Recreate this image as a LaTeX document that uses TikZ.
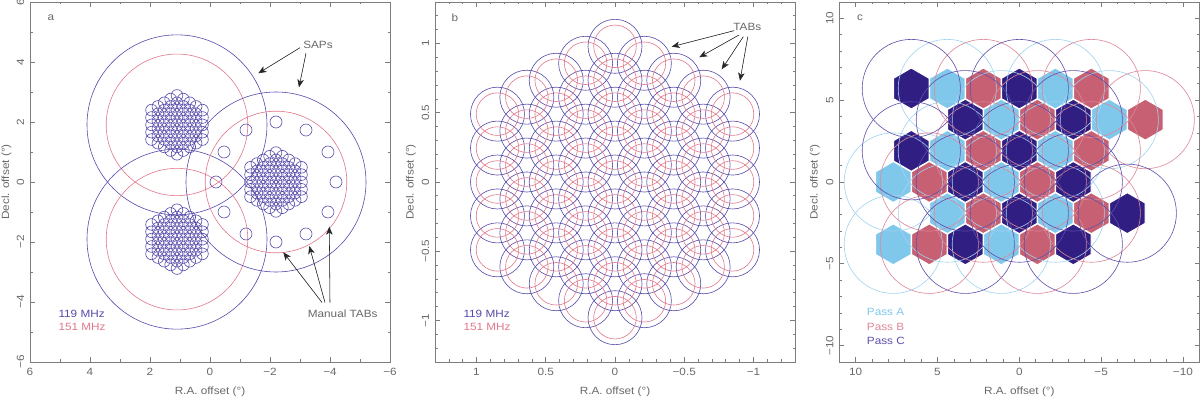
\documentclass[tikz,border=0pt]{standalone}
\usepackage{fontspec}
\setmainfont{Liberation Sans}[FakeStretch=1.12]
\usetikzlibrary{arrows.meta}
\definecolor{txt}{RGB}{105,105,105}
\definecolor{frm}{RGB}{125,125,125}
\definecolor{bl}{RGB}{85,75,170}
\definecolor{rd}{RGB}{225,120,140}
\definecolor{pa}{RGB}{128,200,235}
\definecolor{pb}{RGB}{200,96,115}
\definecolor{pc}{RGB}{48,30,130}
\definecolor{pal}{RGB}{160,212,240}
\definecolor{pbl}{RGB}{222,135,152}
\definecolor{pcl}{RGB}{95,80,170}
\newcommand\axesbox[4]{%
  \foreach \k in {-#3,...,#3}{%
    \pgfmathsetmacro\tlen{mod(abs(\k),#4)==0 ? 4.7 : 2.5}%
    \draw[tk] ({#1+\k*#2},37) -- ++(0,\tlen);
    \draw[tk] ({#1+\k*#2},397) -- ++(0,-\tlen);
    \draw[tk] ({#1-180},{217+\k*#2}) -- ++(\tlen,0);
    \draw[tk] ({#1+180},{217+\k*#2}) -- ++(-\tlen,0);
  }%
  \draw[frame] ({#1-180},37) rectangle ({#1+180},397);
}
\newcommand\tabgrid[4]{%
  \foreach \k in {-4,...,4}{%
    \pgfmathtruncatemacro\nn{8-abs(\k)}%
    \foreach \j in {0,...,\nn}{%
      \draw[#4,cl] ({#1+\k*0.2122},{#2+(\j-\nn/2)*0.245}) circle[radius=#3];
    }%
  }%
}
\newcommand\hexc[3]{%
  \filldraw[fill=#3, draw=white, line width=1pt]
    (#1,{#2+1.25}) -- ({#1+1.0825},{#2+0.625}) -- ({#1+1.0825},{#2-0.625}) --
    (#1,{#2-1.25}) -- ({#1-1.0825},{#2-0.625}) -- ({#1-1.0825},{#2+0.625}) -- cycle;
}
\begin{document}
\begin{tikzpicture}[x=1pt,y=1pt,
  lab/.style={font=\fontsize{10.5}{12}\selectfont, text=txt, inner sep=0pt},
  leg/.style={font=\fontsize{10.5}{12}\selectfont, inner sep=0pt, anchor=west},
  arr/.style={-{Stealth[length=8pt,width=6.5pt,inset=2.2pt]}, line width=0.55pt, draw=black!85, fill=black},
  frame/.style={draw=frm, line width=0.9pt},
  tk/.style={draw=frm, line width=0.7pt},
  cl/.style={line width=0.6pt}]
\fill[white] (0,0) rectangle (1200,399);
\useasboundingbox (0,0) rectangle (1200,399);

% ---------------- panel a ----------------
\begin{scope}[shift={(210pt,217pt)}, x=-30pt, y=30pt]
  \clip (-6,-6) rectangle (6,6);
  \foreach \cx/\cy in {1.1/1.905, 1.1/-1.905, -2.2/0}{
    \draw[bl,cl] (\cx,\cy) circle[radius=3];
    \draw[rd,cl] (\cx,\cy) circle[radius=2.36];
  }
  \tabgrid{1.1}{1.905}{0.195}{bl}
  \tabgrid{1.1}{-1.905}{0.195}{bl}
  \tabgrid{-2.2}{0}{0.195}{bl}
  \foreach \a in {0,30,...,330}{
    \draw[bl,cl] ({-2.2+2*cos(\a)},{2*sin(\a)}) circle[radius=0.2];
  }
\end{scope}
\axesbox{210}{30}{6}{2}
\node[lab] (alet) at (51,381.7) {a};
\foreach \v/\p [count=\i] in {6/30,4/90,2/150,0/210,−2/270,−4/330,−6/390}
  \node[lab] (atx\i) at (\p,27.3) {\v};
\foreach \v/\p [count=\i] in {6/397,4/337,2/277,0/217,−2/157,−4/97,−6/37}
  \node[lab,rotate=90] (aty\i) at (20.5,\p) {\v};
\node[lab] (axt) at (210,7.3) {R.A. offset (°)};
\node[lab,rotate=90] (ayt) at (6.5,217) {Decl. offset (°)};
\node[leg,text=bl] (aleg1) at (58.3,85) {119 MHz};
\node[leg,text=rd] (aleg2) at (58.3,72.3) {151 MHz};
\node[lab] (saps) at (318,354.5) {SAPs};
\coordinate (sapS1) at (300,351.3);
\coordinate (sapT1) at (258.3,325.7);
\coordinate (sapS2) at (306,345.7);
\coordinate (sapT2) at (299,311.7);
\draw[arr] (sapS1) -- (sapT1);
\draw[arr] (sapS2) -- (sapT2);
\node[lab] (mtabs) at (342.7,85) {Manual TABs};
\coordinate (mS1) at (322,96.5);
\coordinate (mT1) at (283.3,146.7);
\coordinate (mS2) at (325,96.5);
\coordinate (mT2) at (309.3,153);
\coordinate (mS3) at (330,96.5);
\coordinate (mT3) at (329.3,172.3);
\draw[arr] (mS1) -- (mT1);
\draw[arr] (mS2) -- (mT2);
\draw[arr] (mS3) -- (mT3);

% ---------------- panel b ----------------
\begin{scope}[shift={(615pt,217pt)}, x=-138.46pt, y=138.46pt]
  \clip (-1.3,-1.3) rectangle (1.3,1.3);
  \tabgrid{0}{0}{0.195}{bl}
  \tabgrid{0}{0}{0.1537}{rd}
\end{scope}
\axesbox{615}{13.846}{13}{5}
\node[lab] (blet) at (455,381.7) {b};
\foreach \v/\p [count=\i] in {1/476.5,0.5/545.8,0/615,−0.5/684.2,−1/753.5}
  \node[lab] (btx\i) at (\p,27.3) {\v};
\foreach \v/\p [count=\i] in {1/355.5,0.5/286.2,0/217,−0.5/147.8,−1/78.5}
  \node[lab,rotate=90] (bty\i) at (425.5,\p) {\v};
\node[lab] (bxt) at (615,7.3) {R.A. offset (°)};
\node[lab,rotate=90] (byt) at (411,217) {Decl. offset (°)};
\node[leg,text=bl] (bleg1) at (463.3,85) {119 MHz};
\node[leg,text=rd] (bleg2) at (463.3,72.3) {151 MHz};
\node[lab] (tabs) at (747.3,372.3) {TABs};
\coordinate (tS1) at (734,368.3);
\coordinate (tT1) at (671.7,352.3);
\coordinate (tS2) at (739,364);
\coordinate (tT2) at (699.3,341.7);
\coordinate (tS3) at (743.3,362.3);
\coordinate (tT3) at (721.7,329.7);
\coordinate (tS4) at (747.8,362.3);
\coordinate (tT4) at (740,318.3);
\draw[arr] (tS1) -- (tT1);
\draw[arr] (tS2) -- (tT2);
\draw[arr] (tS3) -- (tT3);
\draw[arr] (tS4) -- (tT4);

% ---------------- panel c ----------------
\begin{scope}[shift={(1019.3pt,217pt)}, x=-16.364pt, y=16.364pt]
  \clip (-11,-11) rectangle (11,11);
  \foreach \x/\y/\c in {
    6.6/5.715/pc, 4.4/5.715/pa, 2.2/5.715/pb, 0/5.715/pc, -2.2/5.715/pa, -4.4/5.715/pb,
    3.3/3.81/pc, 1.1/3.81/pa, -1.1/3.81/pb, -3.3/3.81/pc, -5.5/3.81/pa, -7.7/3.81/pb,
    6.6/1.905/pc, 4.4/1.905/pa, 2.2/1.905/pb, 0/1.905/pc, -2.2/1.905/pa, -4.4/1.905/pb,
    7.7/0/pa, 5.5/0/pb, 3.3/0/pc, 1.1/0/pa, -1.1/0/pb, -3.3/0/pc,
    4.4/-1.905/pa, 2.2/-1.905/pb, 0/-1.905/pc, -2.2/-1.905/pa, -4.4/-1.905/pb, -6.6/-1.905/pc,
    7.7/-3.81/pa, 5.5/-3.81/pb, 3.3/-3.81/pc, 1.1/-3.81/pa, -1.1/-3.81/pb, -3.3/-3.81/pc}
    {\hexc{\x}{\y}{\c}}
  \foreach \x/\y in {4.4/5.715, -2.2/5.715, 1.1/3.81, -5.5/3.81, 4.4/1.905, -2.2/1.905,
                     7.7/0, 1.1/0, 4.4/-1.905, -2.2/-1.905, 7.7/-3.81, 1.1/-3.81}
    \draw[pal,cl] (\x,\y) circle[radius=3];
  \foreach \x/\y in {2.2/5.715, -4.4/5.715, -1.1/3.81, -7.7/3.81, 2.2/1.905, -4.4/1.905,
                     5.5/0, -1.1/0, 2.2/-1.905, -4.4/-1.905, 5.5/-3.81, -1.1/-3.81}
    \draw[pbl,cl] (\x,\y) circle[radius=3];
  \foreach \x/\y in {6.6/5.715, 0/5.715, 3.3/3.81, -3.3/3.81, 6.6/1.905, 0/1.905,
                     3.3/0, -3.3/0, 0/-1.905, -6.6/-1.905, 3.3/-3.81, -3.3/-3.81}
    \draw[pcl,cl] (\x,\y) circle[radius=3];
\end{scope}
\axesbox{1019.3}{16.364}{11}{5}
\node[lab] (clet) at (860,381.7) {c};
\foreach \v/\p [count=\i] in {10/855.7,5/937.5,0/1019.3,−5/1101.1,−10/1182.9}
  \node[lab] (ctx\i) at (\p,27.3) {\v};
\foreach \v/\p [count=\i] in {10/380.6,5/298.8,0/217,−5/135.2,−10/53.4}
  \node[lab,rotate=90] (cty\i) at (829.8,\p) {\v};
\node[lab] (cxt) at (1019.3,7.3) {R.A. offset (°)};
\node[lab,rotate=90] (cyt) at (815,217) {Decl. offset (°)};
\node[leg,text=pa] (cleg1) at (866.7,86.7) {Pass A};
\node[leg,text=pbl] (cleg2) at (866.7,72.3) {Pass B};
\node[leg,text=pcl] (cleg3) at (866.7,58.3) {Pass C};
\end{tikzpicture}
\end{document}
